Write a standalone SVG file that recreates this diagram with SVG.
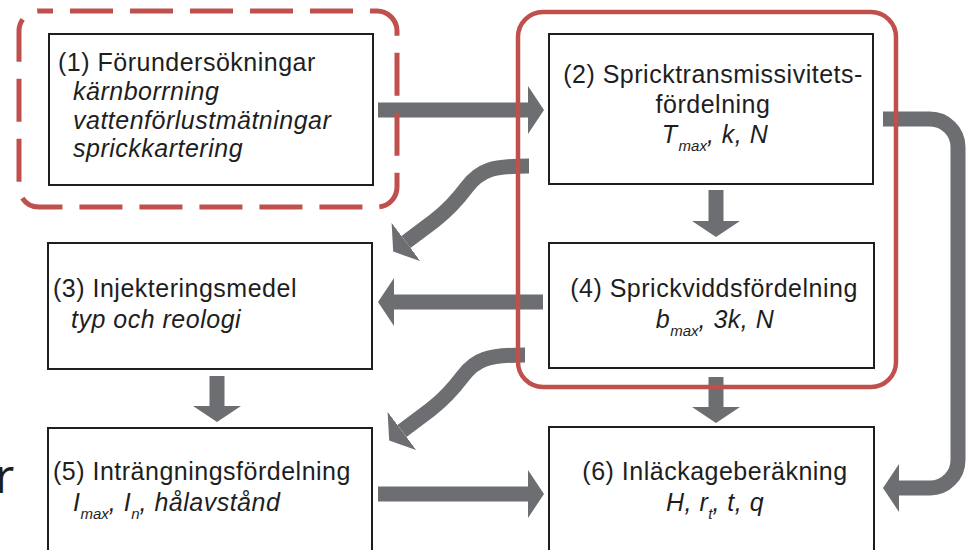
<svg xmlns="http://www.w3.org/2000/svg" width="968" height="550" viewBox="0 0 968 550">
<defs>
<style>
.box{fill:#ffffff;stroke:#1e1e1e;stroke-width:2}
.t{font-family:"Liberation Sans",Arial,Helvetica,sans-serif;font-size:25px;letter-spacing:0.5px;fill:#1e1e1e}
.i{font-style:italic}
.c{text-anchor:middle}
.sub{font-size:15px;letter-spacing:0}
.arr{fill:none;stroke:#6d6e71;stroke-width:15;stroke-linecap:butt;stroke-linejoin:round;marker-end:url(#head)}
.frame{fill:none;stroke:#c0504d}
</style>
<marker id="head" viewBox="0 0 16 48" refX="0" refY="24" markerWidth="16" markerHeight="48" markerUnits="userSpaceOnUse" orient="auto">
<path d="M0,0 L16,24 L0,48 Z" fill="#6d6e71"/>
</marker>
</defs>
<rect width="968" height="550" fill="#ffffff"/>

<text x="-5" y="493" style="font-family:'Open Sans',sans-serif;font-size:47px;fill:#1e1e1e">r</text>

<g id="node1">
<rect class="box" x="49" y="34" width="324" height="151"/>
<text class="t" x="58" y="71">(1) Förundersökningar</text>
<text class="t i" x="73" y="100">kärnborrning</text>
<text class="t i" x="73" y="129">vattenförlustmätningar</text>
<text class="t i" x="73" y="157">sprickkartering</text>
</g>

<g id="node2">
<rect class="box" x="549" y="34" width="324" height="150"/>
<text class="t c" x="713" y="83">(2) Spricktransmissivitets-</text>
<text class="t c" x="713" y="113">fördelning</text>
<text class="t i c" x="715" y="143">T<tspan class="sub" dx="1" dy="8">max</tspan><tspan dy="-8">, k, N</tspan></text>
</g>

<g id="node3">
<rect class="box" x="48" y="243" width="324" height="126"/>
<text class="t" x="53" y="297">(3) Injekteringsmedel</text>
<text class="t i" x="71" y="328">typ och reologi</text>
</g>

<g id="node4">
<rect class="box" x="549" y="243" width="325" height="125"/>
<text class="t c" x="714" y="297">(4) Sprickviddsfördelning</text>
<text class="t i c" x="715" y="328">b<tspan class="sub" dy="8">max</tspan><tspan dy="-8">, 3k, N</tspan></text>
</g>

<g id="node5">
<rect class="box" x="48" y="428" width="324" height="140"/>
<text class="t" x="53" y="480">(5) Inträngningsfördelning</text>
<text class="t i" x="73" y="511">I<tspan class="sub" dy="8">max</tspan><tspan dy="-8">, I</tspan><tspan class="sub" dy="8">n</tspan><tspan dy="-8">, hålavstånd</tspan></text>
</g>

<g id="node6">
<rect class="box" x="549" y="427" width="325" height="140"/>
<text class="t c" x="715" y="480">(6) Inläckageberäkning</text>
<text class="t i c" x="715" y="511">H, r<tspan class="sub" dy="8">t</tspan><tspan dy="-8">, t, q</tspan></text>
</g>

<g id="connectors">
<path class="arr" d="M378 110 H528"/>
<path class="arr" d="M716 190 V221"/>
<path class="arr" d="M716 377 V407"/>
<path class="arr" d="M217 376 V406"/>
<path class="arr" d="M543 302 H394"/>
<path class="arr" d="M378 494 H528"/>
<path class="arr" d="M529 166 C492 166 480 170 467 187 C455 203 447 211 434 221 L406 242"/>
<path class="arr" d="M525 355 C488 355 476 359 463 376 C451 392 443 400 430 410 L402 431"/>
<path class="arr" d="M883 119 H930 A28 28 0 0 1 958 147 V460 A28 28 0 0 1 930 488 H899"/>
</g>

<g id="frames">
<rect class="frame" x="19" y="11" width="378" height="196" rx="20" stroke-width="5" stroke-dasharray="43 17" stroke-dashoffset="29"/>
<rect class="frame" x="518" y="12" width="378" height="375" rx="25" stroke-width="4.5"/>
</g>
</svg>
